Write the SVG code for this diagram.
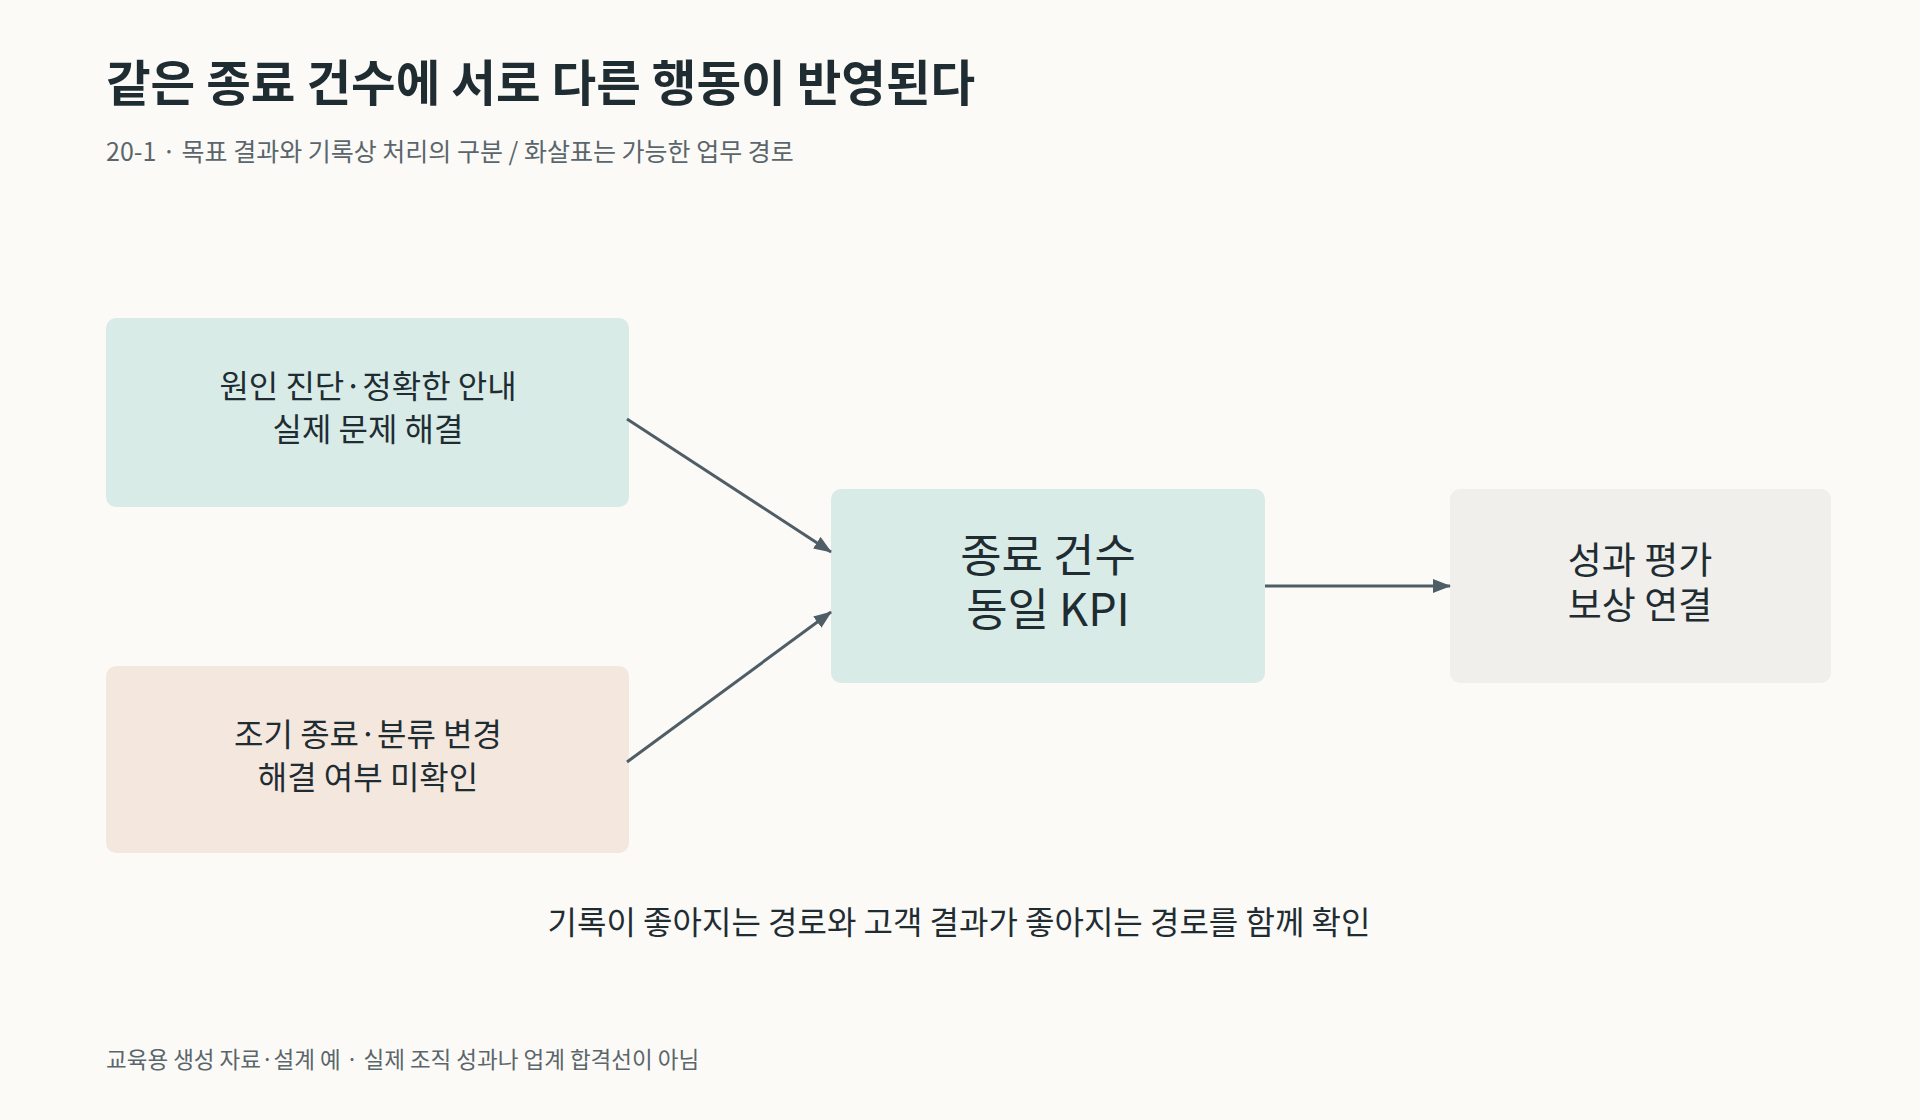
<svg xmlns="http://www.w3.org/2000/svg" width="1920" height="1120" viewBox="0 0 1920 1120">
<style>
text{font-family:"Noto Sans CJK KR","Noto Sans",sans-serif;fill:#1f2d33}
.n{font-size:32px;text-anchor:middle}
.c{stroke:#4f5e66;stroke-width:3;fill:none;marker-end:url(#a)}
</style>
<defs><marker id="a" viewBox="0 0 18 14" refX="17" refY="7" markerWidth="18" markerHeight="14" orient="auto" markerUnits="userSpaceOnUse"><path d="M0,0L18,7L0,14z" fill="#4f5e66"/></marker></defs>
<rect width="1920" height="1120" fill="#fcfaf7"/>
<text x="106" y="101" font-size="48.5" font-weight="700">같은 종료 건수에 서로 다른 행동이 반영된다</text>
<text x="106" y="161" font-size="25" style="fill:#5a666c">20-1 · 목표 결과와 기록상 처리의 구분 / 화살표는 가능한 업무 경로</text>
<g id="n1"><rect x="106" y="318" width="523" height="189" rx="10" fill="#d8ebe7"/><text class="n" x="368" y="398">원인 진단·정확한 안내</text><text class="n" x="368" y="441">실제 문제 해결</text></g>
<g id="n2"><rect x="106" y="666" width="523" height="187" rx="10" fill="#f4e7dd"/><text class="n" x="368" y="746">조기 종료·분류 변경</text><text class="n" x="368" y="789">해결 여부 미확인</text></g>
<g id="n3"><rect x="831" y="489" width="434" height="194" rx="10" fill="#d8ebe7"/><text class="n" x="1048" y="572" style="font-size:45px">종료 건수</text><text class="n" x="1048" y="626" style="font-size:45px">동일 KPI</text></g>
<g id="n4"><rect x="1450" y="489" width="381" height="194" rx="10" fill="#f0efeb"/><text class="n" x="1640" y="574" style="font-size:37px">성과 평가</text><text class="n" x="1640" y="619" style="font-size:37px">보상 연결</text></g>
<g id="connectors">
<path class="c" d="M627,419L831,552"/>
<path class="c" d="M627,762L831,612"/>
<path class="c" d="M1265,586L1450,586"/>
</g>
<text x="959" y="934" font-size="32" text-anchor="middle">기록이 좋아지는 경로와 고객 결과가 좋아지는 경로를 함께 확인</text>
<text x="106" y="1068" font-size="22.5" style="fill:#5a666c">교육용 생성 자료·설계 예 · 실제 조직 성과나 업계 합격선이 아님</text>
</svg>
